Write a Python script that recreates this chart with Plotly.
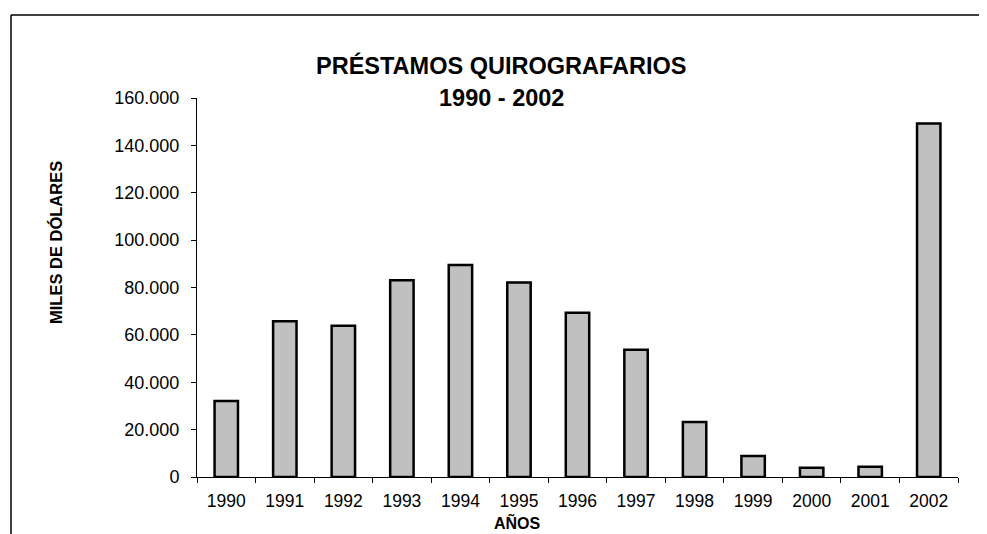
import plotly.graph_objects as go

years = ["1990", "1991", "1992", "1993", "1994", "1995", "1996",
         "1997", "1998", "1999", "2000", "2001", "2002"]
values = [32100, 65800, 63800, 83100, 89500, 82100, 69300,
          53700, 23200, 8900, 3900, 4300, 149200]
y_ticks = [0, 20000, 40000, 60000, 80000, 100000, 120000, 140000, 160000]

title_line1 = "PRÉSTAMOS QUIROGRAFARIOS"
title_line2 = "1990 - 2002"
y_title = "MILES DE DÓLARES"
x_title = "AÑOS"

FONT = "Arial, Liberation Sans, sans-serif"
OFF = 8  # default page body margin
W, H = 987 - OFF, 534 - OFF
# plot area in page pixels
L, R, T, B = 197, 958, 98, 477


def px(x):
    return (x - L) / (R - L)


def py(y):
    return (B - y) / (B - T)


fig = go.Figure(go.Bar(
    x=years, y=values, width=0.4,
    marker=dict(color="#C0C0C0", line=dict(color="black", width=2.5)),
))

fig.update_layout(
    width=W, height=H,
    margin=dict(l=L - OFF, r=987 - R, t=T - OFF, b=534 - B, pad=0),
    paper_bgcolor="white", plot_bgcolor="white",
    separators=",.",
    showlegend=False,
    font=dict(family=FONT, size=17, color="black"),
    xaxis=dict(
        type="category", showgrid=False, showline=True, linecolor="black",
        linewidth=1, ticks="outside", ticklen=5, tickcolor="black",
        tickson="boundaries", tickfont=dict(size=17.5), zeroline=False,
        ticklabelstandoff=8,
    ),
    yaxis=dict(
        range=[0, 160000], tickvals=y_ticks, tickformat=",d",
        showgrid=False, showline=True, linecolor="black", linewidth=1,
        ticks="outside", ticklen=5, tickcolor="black", zeroline=False,
        tickfont=dict(size=18), ticklabelstandoff=8,
    ),
    annotations=[
        dict(text="<b>%s</b>" % title_line1, xref="paper", yref="paper",
             x=px(501), y=py(65), showarrow=False, xanchor="center",
             yanchor="middle", font=dict(size=23.5, family=FONT)),
        dict(text="<b>%s</b>" % title_line2, xref="paper", yref="paper",
             x=px(501), y=py(98), showarrow=False, xanchor="center",
             yanchor="middle", font=dict(size=23.5, family=FONT)),
        dict(text="<b>%s</b>" % y_title, xref="paper", yref="paper",
             x=px(56), y=py(243), showarrow=False, textangle=-90,
             xanchor="center", yanchor="middle", font=dict(size=16.5, family=FONT)),
        dict(text="<b>%s</b>" % x_title, xref="paper", yref="paper",
             x=px(517), y=py(534), showarrow=False, xanchor="center",
             yanchor="bottom", font=dict(size=16, family=FONT)),
    ],
    shapes=[
        dict(type="line", xref="paper", yref="paper",
             x0=px(11), y0=py(15), x1=px(11), y1=py(560),
             line=dict(color="black", width=1.5)),
        dict(type="line", xref="paper", yref="paper",
             x0=px(11), y0=py(15), x1=px(1000), y1=py(15),
             line=dict(color="black", width=1.5)),
    ],
)

fig.write_html("out.html")
